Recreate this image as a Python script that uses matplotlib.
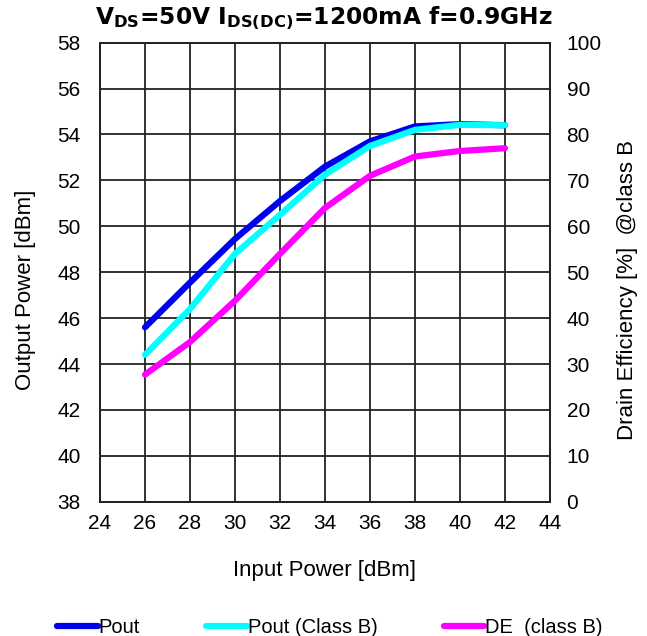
import matplotlib.pyplot as plt

# input power [dBm]
pin = [26, 28, 30, 32, 34, 36, 38, 40, 42]

# output power [dBm]
pout = [45.6, 47.55, 49.45, 51.1, 52.6, 53.7, 54.35, 54.45, 54.4]
pout_b = [44.4, 46.4, 48.8, 50.5, 52.25, 53.5, 54.2, 54.42, 54.4]

# drain efficiency [%] class B
de_b = [27.7, 34.8, 43.8, 54.0, 64.0, 71.0, 75.2, 76.4, 77.0]

plt.rcParams['font.family'] = ['Liberation Sans', 'DejaVu Sans']

fig = plt.figure(figsize=(6.47, 6.36), dpi=100)
ax = fig.add_axes([0.1546, 0.211, 0.6954, 0.722])
ax2 = ax.twinx()

l1, = ax.plot(pin, pout, color='#0000F0', lw=4.5, solid_capstyle='round', label='Pout')
l2, = ax.plot(pin, pout_b, color='#00FFFF', lw=4.5, solid_capstyle='round', label='Pout (Class B)')
l3, = ax2.plot(pin, de_b, color='#FF00FF', lw=4.5, solid_capstyle='round', label='DE  (class B)')

ax.set_xlim(24, 44)
ax.set_ylim(38, 58)
ax.set_xticks(range(24, 45, 2))
ax.set_yticks(range(38, 59, 2))
ax2.set_ylim(0, 100)
ax2.set_yticks(range(0, 101, 10))

ax.grid(True, color='#222222', lw=1.3)
ax.set_axisbelow(True)
for a in (ax, ax2):
    a.tick_params(length=0, labelsize=15)
    for s in a.spines.values():
        s.set_color('#222222')
        s.set_linewidth(1.3)
ax.tick_params(axis='x', pad=9)
ax.tick_params(axis='y', pad=14)
ax2.tick_params(axis='y', pad=12)

ax.set_xlabel('Input Power [dBm]', fontsize=16, labelpad=19)
ax.set_ylabel('Output Power [dBm]', fontsize=16)
ax2.set_ylabel('Drain Efficiency [%]  @class B', fontsize=16)
ax.yaxis.set_label_coords(-0.143, 0.462)
ax2.yaxis.set_label_coords(1.148, 0.462)

fig.text(0.5, 0.972, r'V$_\mathbf{DS}$=50V I$_\mathbf{DS(DC)}$=1200mA f=0.9GHz',
         ha='center', va='center', fontsize=16.8, fontweight='bold',
         family='DejaVu Sans')

fig.legend(handles=[l1, l2, l3], loc='lower center', bbox_to_anchor=(0.51, -0.03),
           ncol=3, frameon=False, fontsize=14.5, handlelength=2.0,
           handletextpad=0.05, columnspacing=3.3)

fig.savefig('out.png', dpi=100)
